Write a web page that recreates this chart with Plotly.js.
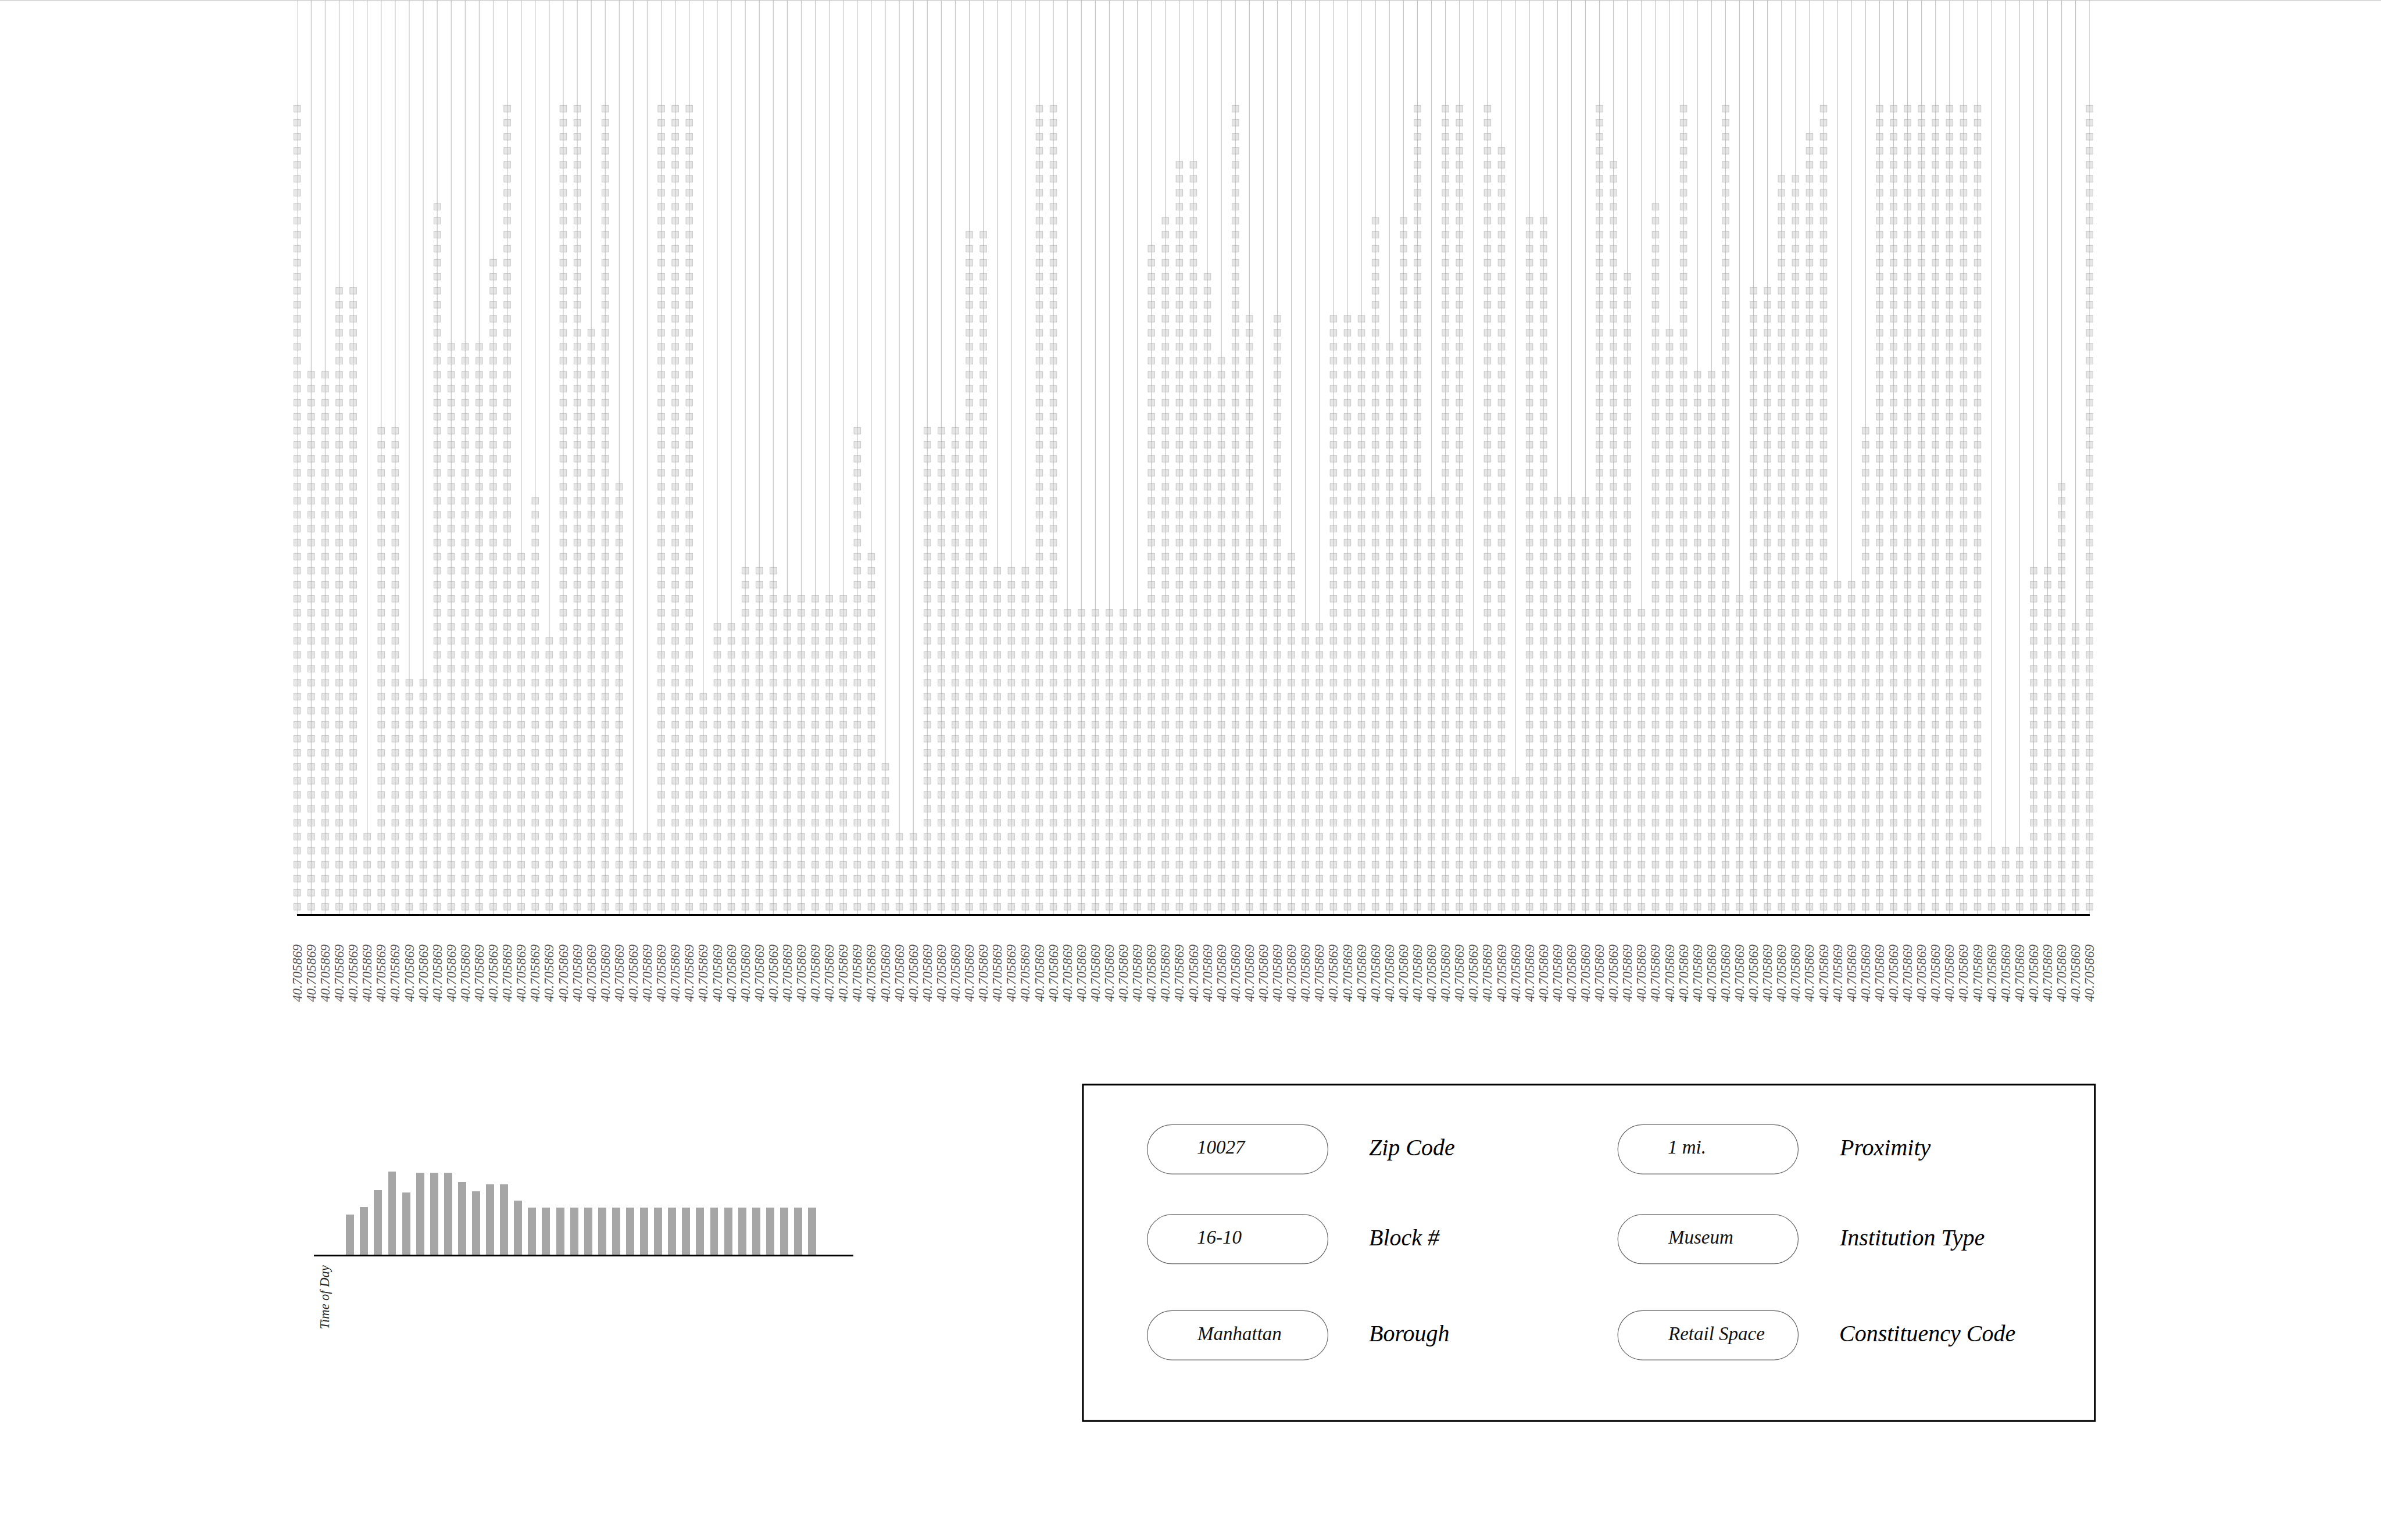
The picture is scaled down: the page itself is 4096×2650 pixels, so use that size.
<!DOCTYPE html>
<html>
<head>
<meta charset="utf-8">
<script src="https://cdn.plot.ly/plotly-3.0.1.min.js"></script>
<style>
  html, body { margin: 0; padding: 0; background: #ffffff; }
  #chart { width: 4096px; height: 2650px; }
</style>
</head>
<body>
<div id="chart"></div>
<script>
// ---------------- DATA ----------------
// number of stacked squares in each of the 129 columns
const columnCounts = [
  58,39,39,45,45,6,35,35,17,17,51,41,41,41,47,58,26,30,20,58,58,42,58,31,6,6,58,58,58,16,21,21,25,
  25,25,23,23,23,23,23,35,26,11,6,6,35,35,35,49,49,25,25,25,58,58,22,22,22,22,22,22,48,50,54,54,46,
  40,58,43,28,43,26,21,21,43,43,43,50,41,50,58,30,58,58,19,58,55,10,50,50,30,30,30,58,54,46,22,51,42,
  58,39,39,58,23,45,45,53,53,56,58,24,24,35,58,58,58,58,58,58,58,58,5,5,5,25,25,31,21,58
];
// x tick labels (one per column)
const columnLabels = [
  "40.705869","40.705869","40.705869","40.705869","40.705869","40.705869","40.705869","40.705869","40.705869","40.705869",
  "40.705869","40.705869","40.705869","40.705869","40.705869","40.705869","40.705869","40.705869","40.705869","40.705869",
  "40.705869","40.705869","40.705869","40.705869","40.705869","40.705869","40.705869","40.705869","40.705869","40.705869",
  "40.705869","40.705869","40.705869","40.705869","40.705869","40.705869","40.705869","40.705869","40.705869","40.705869",
  "40.705869","40.705869","40.705869","40.705869","40.705869","40.705869","40.705869","40.705869","40.705869","40.705869",
  "40.705869","40.705869","40.705869","40.705869","40.705869","40.705869","40.705869","40.705869","40.705869","40.705869",
  "40.705869","40.705869","40.705869","40.705869","40.705869","40.705869","40.705869","40.705869","40.705869","40.705869",
  "40.705869","40.705869","40.705869","40.705869","40.705869","40.705869","40.705869","40.705869","40.705869","40.705869",
  "40.705869","40.705869","40.705869","40.705869","40.705869","40.705869","40.705869","40.705869","40.705869","40.705869",
  "40.705869","40.705869","40.705869","40.705869","40.705869","40.705869","40.705869","40.705869","40.705869","40.705869",
  "40.705869","40.705869","40.705869","40.705869","40.705869","40.705869","40.705869","40.705869","40.705869","40.705869",
  "40.705869","40.705869","40.705869","40.705869","40.705869","40.705869","40.705869","40.705869","40.705869","40.705869",
  "40.705869","40.705869","40.705869","40.705869","40.705869","40.705869","40.705869","40.705869","40.705869"
];
// time-of-day bars (small chart)
const timeOfDayValues = [8.6,10.2,13.8,17.8,13.4,17.6,17.6,17.6,15.6,13.6,15.1,15.1,11.6,
  10.1,10.1,10.1,10.1,10.1,10.1,10.1,10.1,10.1,10.1,10.1,10.1,10.1,10.1,10.1,10.1,10.1,10.1,10.1,10.1,10.1];
const timeOfDayTitle = "Time of Day";
// legend entries
const legendLeftValues = ["10027", "16-10", "Manhattan"];
const legendLeftLabels = ["Zip Code", "Block #", "Borough"];
const legendRightValues = ["1 mi.", "Museum", "Retail Space"];
const legendRightLabels = ["Proximity", "Institution Type", "Constituency Code"];

// ---------------- LAYOUT HELPERS ----------------
const S = 4096 / 5101;           // scale factor
const REF_W = 5101, REF_H = 3300;
const FONT = "Liberation Serif, Times New Roman, serif";
const Y_TOP = 1959 / 30;         // plot height in square units
const SQ_OFFSET = 16 / 30;       // first square centre above axis

// vertical guide lines
const lx = [], ly = [];
columnCounts.forEach((c, i) => { lx.push(i, i, null); ly.push(0, Y_TOP, null); });
// squares
const sx = [], sy = [];
columnCounts.forEach((c, i) => {
  for (let k = 0; k < c; k++) { sx.push(i); sy.push(SQ_OFFSET + k); }
});
const tickvals = columnLabels.map((_, i) => i);
const barX = timeOfDayValues.map((_, i) => i);

const traces = [
  { type: "scatter", mode: "lines", x: lx, y: ly, xaxis: "x", yaxis: "y",
    line: { color: "#c4c4c4", width: 1.2 }, hoverinfo: "skip", showlegend: false },
  { type: "scatter", mode: "markers", x: sx, y: sy, xaxis: "x", yaxis: "y", cliponaxis: false,
    marker: { symbol: "square", size: 11.6, color: "rgba(200,200,200,0.45)",
              line: { color: "rgba(150,150,150,0.55)", width: 0.8 } },
    hoverinfo: "skip", showlegend: false },
  { type: "bar", x: barX, y: timeOfDayValues, xaxis: "x2", yaxis: "y2", width: 0.58,
    marker: { color: "#a6a6a6", line: { width: 0 } }, hoverinfo: "skip", showlegend: false },
  { type: "scatter", mode: "markers", x: [null], y: [null], xaxis: "x3", yaxis: "y3",
    hoverinfo: "skip", showlegend: false }
];

// legend shapes
function pillPath(x0, y0, x1, y1) {
  const r = (y1 - y0) / 2, k = 0.5523 * r;
  return `M ${x0 + r},${y0} L ${x1 - r},${y0} ` +
    `C ${x1 - r + k},${y0} ${x1},${y0 + r - k} ${x1},${y0 + r} ` +
    `C ${x1},${y0 + r + k} ${x1 - r + k},${y1} ${x1 - r},${y1} ` +
    `L ${x0 + r},${y1} ` +
    `C ${x0 + r - k},${y1} ${x0},${y0 + r + k} ${x0},${y0 + r} ` +
    `C ${x0},${y0 + r - k} ${x0 + r - k},${y0} ${x0 + r},${y0} Z`;
}
const pillTops = [2410, 2602.5, 2808.5];
const pillH = 105.6;
const shapes = [
  { type: "rect", xref: "x3", yref: "y3", x0: 2320, y0: 2324, x1: 4488, y1: 3045,
    line: { color: "#000000", width: 3.2 }, fillcolor: "rgba(0,0,0,0)" },
  { type: "line", xref: "x3", yref: "y3", x0: 0, y0: 0.6, x1: REF_W, y1: 0.6,
    line: { color: "#c4c4c4", width: 1 } }
];
const annotations = [];
pillTops.forEach((t, i) => {
  shapes.push({ type: "path", xref: "x3", yref: "y3", path: pillPath(2458, t, 2845, t + pillH),
    line: { color: "#666666", width: 1.2 }, fillcolor: "rgba(0,0,0,0)" });
  shapes.push({ type: "path", xref: "x3", yref: "y3", path: pillPath(3466, t, 3852.5, t + pillH),
    line: { color: "#666666", width: 1.2 }, fillcolor: "rgba(0,0,0,0)" });
  const cy = t + pillH / 2 - 4;
  annotations.push({ xref: "x3", yref: "y3", x: 2562, y: cy, text: legendLeftValues[i],
    showarrow: false, xanchor: "left", yanchor: "middle",
    font: { family: FONT, size: 33, color: "#111111", style: "italic" } });
  annotations.push({ xref: "x3", yref: "y3", x: 2930, y: cy, text: legendLeftLabels[i],
    showarrow: false, xanchor: "left", yanchor: "middle",
    font: { family: FONT, size: 40, color: "#000000", style: "italic" } });
  annotations.push({ xref: "x3", yref: "y3", x: 3571, y: cy, text: legendRightValues[i],
    showarrow: false, xanchor: "left", yanchor: "middle",
    font: { family: FONT, size: 33, color: "#111111", style: "italic" } });
  annotations.push({ xref: "x3", yref: "y3", x: 3938, y: cy, text: legendRightLabels[i],
    showarrow: false, xanchor: "left", yanchor: "middle",
    font: { family: FONT, size: 40, color: "#000000", style: "italic" } });
});
annotations.push({ xref: "x3", yref: "y3", x: 696, y: 2780, text: timeOfDayTitle, textangle: -90,
  showarrow: false, xanchor: "center", yanchor: "middle",
  font: { family: FONT, size: 22.5, color: "#222222", style: "italic" } });

const layout = {
  width: 4096, height: 2650,
  margin: { l: 0, r: 0, t: 0, b: 0, pad: 0 },
  paper_bgcolor: "#ffffff", plot_bgcolor: "rgba(0,0,0,0)",
  showlegend: false,
  xaxis: {
    domain: [636.7 / REF_W, 4476.7 / REF_W], range: [0, columnCounts.length - 1],
    anchor: "y", tickmode: "array", tickvals: tickvals, ticktext: columnLabels,
    tickangle: -90, ticks: "outside", ticklen: 40, tickcolor: "rgba(0,0,0,0)",
    tickfont: { family: FONT, size: 23.3, color: "#505050", style: "italic" },
    showline: true, linecolor: "#000000", linewidth: 2.6,
    showgrid: false, zeroline: false, fixedrange: true, automargin: false
  },
  yaxis: {
    domain: [1 - 1959 / REF_H, 1], range: [0, Y_TOP], anchor: "x",
    visible: false, fixedrange: true
  },
  xaxis2: {
    domain: [672.6 / REF_W, 1827.8 / REF_W], range: [-2.58, 35.93], anchor: "y2",
    showline: true, linecolor: "#000000", linewidth: 3.2, showticklabels: false,
    ticks: "", showgrid: false, zeroline: false, fixedrange: true
  },
  yaxis2: {
    domain: [1 - 2688.7 / REF_H, 1 - 2450 / REF_H], range: [0, 23.87], anchor: "x2",
    visible: false, fixedrange: true
  },
  xaxis3: { domain: [0, 1], range: [0, REF_W], anchor: "y3", visible: false, fixedrange: true },
  yaxis3: { domain: [0, 1], range: [REF_H, 0], anchor: "x3", visible: false, fixedrange: true },
  bargap: 0,
  shapes: shapes,
  annotations: annotations
};

Plotly.newPlot("chart", traces, layout, { displayModeBar: false, staticPlot: true });
</script>
</body>
</html>
